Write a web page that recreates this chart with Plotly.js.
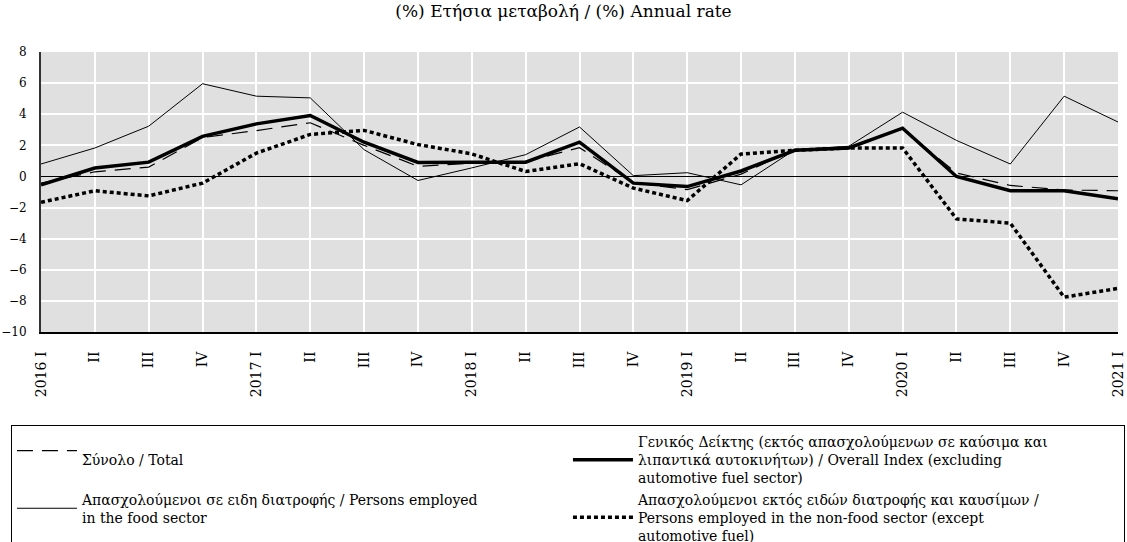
<!DOCTYPE html>
<html>
<head>
<meta charset="utf-8">
<script src="https://cdn.plot.ly/plotly-3.0.1.min.js"></script>
<style>html,body{margin:0;padding:0;background:#fff;}#chart{width:1127px;height:542px;}</style>
</head>
<body>
<div id="chart"></div>
<script>
const quarters = ["2016Q1","2016Q2","2016Q3","2016Q4","2017Q1","2017Q2","2017Q3","2017Q4","2018Q1","2018Q2","2018Q3","2018Q4","2019Q1","2019Q2","2019Q3","2019Q4","2020Q1","2020Q2","2020Q3","2020Q4","2021Q1"];
const tickLabels = ["2016 I","II","III","IV","2017 I","II","III","IV","2018 I","II","III","IV","2019 I","II","III","IV","2020 I","II","III","IV","2021 I"];
const yTicks = [-10, -8, -6, -4, -2, 0, 2, 4, 6, 8];

const totalSeries   = [-0.43, 0.30, 0.60, 2.50, 2.95, 3.45, 2.00, 0.65, 0.85, 0.95, 1.85, -0.40, -0.85, 0.15, 1.75, 1.85, 3.05, 0.22, -0.58, -0.87, -0.92];
const overallSeries = [-0.54, 0.54, 0.92, 2.58, 3.38, 3.92, 2.20, 0.90, 0.92, 0.92, 2.20, -0.43, -0.65, 0.35, 1.68, 1.83, 3.10, 0.00, -0.92, -0.92, -1.44];
const foodSeries    = [0.80, 1.83, 3.23, 5.96, 5.16, 5.05, 1.72, -0.26, 0.55, 1.40, 3.18, 0.05, 0.24, -0.54, 1.72, 1.94, 4.13, 2.32, 0.80, 5.16, 3.50];
const nonFoodSeries = [-1.66, -0.92, -1.25, -0.43, 1.50, 2.70, 2.96, 2.05, 1.45, 0.32, 0.82, -0.75, -1.55, 1.44, 1.68, 1.83, 1.83, -2.73, -3.00, -7.76, -7.20];

const names = {
  total: " <br>Σύνολο / Total",
  overall: "Γενικός Δείκτης (εκτός απασχολούμενων σε καύσιμα και<br>λιπαντικά αυτοκινήτων) / Overall Index (excluding<br>automotive fuel sector)",
  food: "Απασχολούμενοι σε ειδη διατροφής / Persons employed<br>in the food sector",
  nonfood: "Απασχολούμενοι εκτός ειδών διατροφής και καυσίμων /<br>Persons employed in the non-food sector (except<br>automotive fuel)"
};

const FONT = "'DejaVu Serif', 'Liberation Serif', serif";

const traces = [
  {x: quarters, y: totalSeries, name: names.total, type: "scatter", mode: "lines",
   line: {color: "#000", width: 1.2, dash: "16px,9px"}},
  {x: quarters, y: overallSeries, name: names.overall, type: "scatter", mode: "lines",
   line: {color: "#000", width: 3.5}},
  {x: quarters, y: foodSeries, name: names.food, type: "scatter", mode: "lines",
   line: {color: "#000", width: 1}},
  {x: quarters, y: nonFoodSeries, name: names.nonfood, type: "scatter", mode: "lines",
   line: {color: "#000", width: 3.5, dash: "4px,3px"}}
];

const layout = {
  width: 1127, height: 542,
  margin: {l: 41, r: 9, t: 52, b: 210, autoexpand: false},
  paper_bgcolor: "#ffffff",
  plot_bgcolor: "#e0e0e0",
  font: {family: FONT, color: "#000", size: 14},
  title: {text: "(%) Ετήσια μεταβολή / (%) Annual rate", x: 0.5, xanchor: "center", y: 0.99, yanchor: "top",
          font: {family: FONT, size: 17, color: "#000"}},
  showlegend: true,
  legend: {
    orientation: "h", x: -0.0279, xanchor: "left", y: -0.332, yanchor: "top",
    bordercolor: "#000", borderwidth: 1, bgcolor: "#fff",
    entrywidthmode: "pixels", entrywidth: 481, itemwidth: 60,
    font: {family: FONT, size: 14, color: "#000"},
    traceorder: "normal"
  },
  xaxis: {
    type: "category", range: [0, 20],
    tickmode: "array", tickvals: quarters, ticktext: tickLabels, tickangle: -90,
    ticklabelstandoff: 12,
    showgrid: true, gridcolor: "#ffffff", gridwidth: 2,
    showline: true, linecolor: "#000", linewidth: 2,
    ticks: "", tickfont: {family: FONT, size: 14, color: "#000"},
    zeroline: false, fixedrange: true
  },
  yaxis: {
    range: [-10, 8], tickmode: "array", tickvals: yTicks,
    ticklabelstandoff: 10,
    showgrid: true, gridcolor: "#ffffff", gridwidth: 2,
    showline: true, linecolor: "#333", linewidth: 2,
    zeroline: true, zerolinecolor: "#000", zerolinewidth: 1,
    ticks: "", tickfont: {family: FONT, size: 12, color: "#000"},
    fixedrange: true
  }
};

Plotly.newPlot("chart", traces, layout, {displayModeBar: false, staticPlot: true});
</script>
</body>
</html>
